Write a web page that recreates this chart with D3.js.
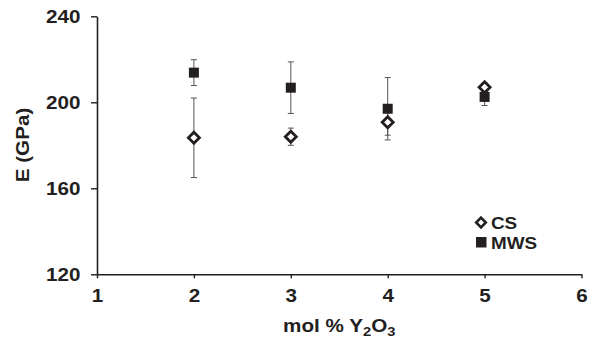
<!DOCTYPE html>
<html><head><meta charset="utf-8">
<script src="https://cdn.jsdelivr.net/npm/d3@7"></script>
<style>
body{margin:0;background:#fff;}
text{font-family:"Liberation Sans",Arial,Helvetica,sans-serif;font-weight:bold;fill:#231f20;}
</style></head>
<body><svg id="c" width="597" height="339"></svg>
<script>
const xVals = [2, 3, 4, 5];
const csValues = [183.5, 184.0, 190.7, 207.0];
const csErrors = [18.5, 4, 6, 2];
const mwsValues = [213.8, 206.8, 197.0, 202.5];
const mwsErrors = [6, 12, 14.5, 4];
const xTicks = [1, 2, 3, 4, 5, 6];
const yTicks = [120, 160, 200, 240];
const seriesNames = ["CS", "MWS"];

const ink = "#231f20";
const svg = d3.select("#c");
const x = d3.scaleLinear().domain([1, 6]).range([97, 581.5]);
const y = d3.scaleLinear().domain([120, 240]).range([274.3, 16.3]);
const sx = 1.18;

// axes
const gx = svg.append("g").attr("transform", `translate(0,${y(120)})`)
  .call(d3.axisBottom(x).tickValues(xTicks).tickFormat(d3.format("d")).tickSize(4).tickSizeOuter(0).tickPadding(11));
const gy = svg.append("g").attr("transform", `translate(${x(1)},0)`)
  .call(d3.axisLeft(y).tickValues(yTicks).tickFormat(d3.format("d")).tickSize(6).tickSizeOuter(0).tickPadding(8));
[gx, gy].forEach(g => {
  g.select(".domain").attr("stroke", ink).attr("stroke-width", 1.6);
  g.selectAll(".tick line").attr("stroke", ink).attr("stroke-width", 1.4);
  g.selectAll(".tick text").attr("font-size", 17.5).attr("fill", ink)
    .style("font-family", '"Liberation Sans",Arial,sans-serif').style("font-weight", "bold");
});
gx.selectAll(".tick text").attr("transform", `scale(${sx},1)`);
gy.selectAll(".tick text").attr("transform", `scale(${sx},1)`).attr("dy", "0.35em");

// titles
const xt = svg.append("text").attr("text-anchor", "middle").attr("font-size", 17.5)
  .attr("transform", `translate(${x(3.5)},331.7) scale(${sx},1)`);
xt.append("tspan").text("mol % Y");
xt.append("tspan").attr("font-size", 12.5).attr("dy", 4).text("2");
xt.append("tspan").attr("dy", -4).text("O");
xt.append("tspan").attr("font-size", 12.5).attr("dy", 4).text("3");

svg.append("text").attr("text-anchor", "middle").attr("font-size", 17.5)
  .attr("transform", `translate(28.5,145) rotate(-90) scale(${sx},1)`).text("E (GPa)");

// error bars
function errBars(vals, errs) {
  const g = svg.append("g").attr("stroke", "#555").attr("stroke-width", 1);
  vals.forEach((v, i) => {
    const cx = x(xVals[i]);
    g.append("line").attr("x1", cx).attr("x2", cx).attr("y1", y(v - errs[i])).attr("y2", y(v + errs[i]));
    [v - errs[i], v + errs[i]].forEach(e => {
      g.append("line").attr("x1", cx - 3).attr("x2", cx + 3).attr("y1", y(e)).attr("y2", y(e));
    });
  });
}
errBars(csValues, csErrors);
errBars(mwsValues, mwsErrors);

const diamond = (cx, cy, r) => `M${cx},${cy - r}L${cx + r},${cy}L${cx},${cy + r}L${cx - r},${cy}Z`;

// CS diamonds
svg.append("g").selectAll("path").data(csValues).join("path")
  .attr("d", (d, i) => diamond(x(xVals[i]), y(d), 5.5))
  .attr("fill", "#fff").attr("stroke", ink).attr("stroke-width", 2.8);
// MWS squares
svg.append("g").selectAll("rect").data(mwsValues).join("rect")
  .attr("x", (d, i) => x(xVals[i]) - 5).attr("y", d => y(d) - 5)
  .attr("width", 10).attr("height", 10).attr("fill", ink);

// legend
svg.append("path").attr("d", diamond(481, 222.5, 4.8)).attr("fill", "#fff").attr("stroke", ink).attr("stroke-width", 2.6);
svg.append("rect").attr("x", 476).attr("y", 237).attr("width", 10.5).attr("height", 10.5).attr("fill", ink);
svg.append("text").attr("font-size", 16).attr("transform", `translate(491,229) scale(${sx},1)`).text(seriesNames[0]);
svg.append("text").attr("font-size", 16).attr("transform", `translate(491,249.3) scale(${sx},1)`).text(seriesNames[1]);
</script></body></html>
